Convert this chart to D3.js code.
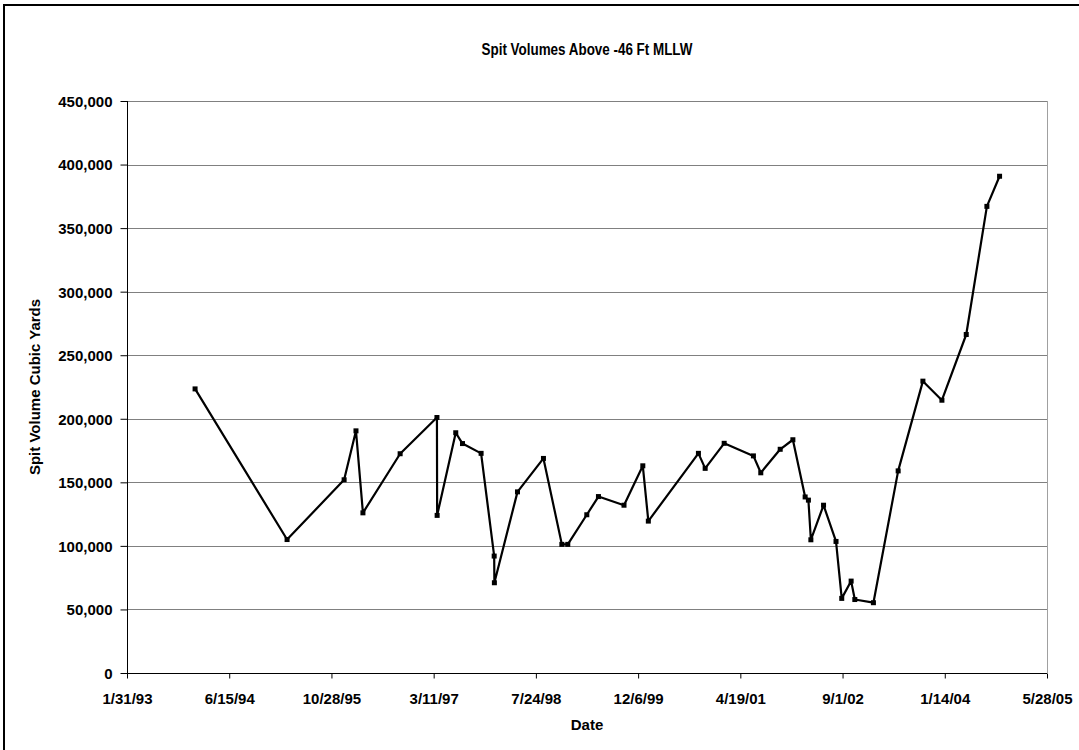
<!DOCTYPE html>
<html><head><meta charset="utf-8">
<script src="https://cdn.jsdelivr.net/npm/d3@7"></script>
<style>body{margin:0;background:#fff}svg{display:block}text{font-family:"Liberation Sans",Arial,sans-serif;font-weight:bold}</style>
</head><body><svg id="c" width="1079" height="750"></svg>
<script>
const dates = ["1993-12-30","1995-03-25","1995-12-29","1996-02-25","1996-03-30","1996-09-28","1997-03-27","1997-03-28","1997-06-27","1997-07-30","1997-10-29","1998-01-01","1998-01-02","1998-04-25","1998-08-30","1998-11-28","1998-12-27","1999-03-30","1999-05-26","1999-09-28","1999-12-29","2000-01-25","2000-09-26","2000-10-29","2001-01-30","2001-06-22","2001-07-28","2001-10-31","2002-01-01","2002-03-02","2002-03-18","2002-03-30","2002-05-31","2002-07-31","2002-08-28","2002-10-13","2002-10-31","2003-01-30","2003-05-31","2003-09-29","2003-12-31","2004-04-28","2004-08-07","2004-10-08"];
const volumes = [223500,105000,152000,190500,126000,172500,201000,124000,189000,180500,172800,92000,71000,142500,168800,101200,101200,124500,138800,132000,163000,119500,172800,161000,180700,170800,157500,176000,183500,138500,136000,104800,132000,103500,58700,72300,57800,55300,159000,229600,214600,266300,367100,390800];
const xTickLabels = ["1/31/93","6/15/94","10/28/95","3/11/97","7/24/98","12/6/99","4/19/01","9/1/02","1/14/04","5/28/05"];
const yTicks = [0,50000,100000,150000,200000,250000,300000,350000,400000,450000];
const title = "Spit Volumes Above -46 Ft MLLW";
const xTitle = "Date";
const yTitle = "Spit Volume Cubic Yards";

const parse = d3.timeParse("%Y-%m-%d");
const tparse = d3.timeParse("%m/%d/%y");
const tickDates = xTickLabels.map(tparse);
const data = dates.map((d,i)=>({d:parse(d), v:volumes[i]}));

const L=127,R=1047,T=101,B=673;
const svg = d3.select("#c");
svg.append("rect").attr("x",4).attr("y",5).attr("width",1090).attr("height",760).attr("fill","#fff").attr("stroke","#000").attr("stroke-width",2);

const x = d3.scaleTime().domain([tickDates[0], tickDates[tickDates.length-1]]).range([L,R]);
const y = d3.scaleLinear().domain([0,450000]).range([B,T]);

// gridlines
svg.append("g").selectAll("line").data(yTicks.slice(1)).join("line")
  .attr("x1",L).attr("x2",R).attr("y1",d=>Math.round(y(d))+0.5).attr("y2",d=>Math.round(y(d))+0.5)
  .attr("stroke","#808080").attr("stroke-width",1.2);
// right border of plot area
svg.append("line").attr("x1",R+0.5).attr("x2",R+0.5).attr("y1",T).attr("y2",B).attr("stroke","#a0a0a0").attr("stroke-width",1);

// axes
const yAxis = d3.axisLeft(y).tickValues(yTicks).tickSize(7).tickPadding(3).tickFormat(d3.format(","));
const gy = svg.append("g").attr("transform",`translate(${L+0.5},0)`).call(yAxis);
gy.select(".domain").attr("stroke","#000").attr("d",`M0,${T}V${B}`);
gy.selectAll("text").attr("font-size",15).attr("dx",-5).attr("dy","0.36em").attr("fill","#000");

const xAxis = d3.axisBottom(x).tickValues(tickDates).tickSize(5).tickPadding(3).tickFormat((d,i)=>xTickLabels[i]);
const gx = svg.append("g").attr("transform",`translate(0,${B+0.5})`).call(xAxis);
gx.select(".domain").attr("stroke","#000").attr("d",`M${L},0H${R}`);
gx.selectAll("text").attr("font-size",15).attr("dy",22).attr("fill","#000");

// line
svg.append("path").datum(data).attr("fill","none").attr("stroke","#000").attr("stroke-width",2.2)
  .attr("stroke-linejoin","round")
  .attr("d",d3.line().x(d=>x(d.d)).y(d=>y(d.v)));
svg.append("g").selectAll("rect").data(data).join("rect")
  .attr("x",d=>x(d.d)-2.5).attr("y",d=>y(d.v)-2.5).attr("width",5).attr("height",5).attr("fill","#000");

// titles
svg.append("text").attr("x",587).attr("y",55).attr("text-anchor","middle").attr("font-size",16)
  .attr("textLength",211).attr("lengthAdjust","spacingAndGlyphs").text(title);
svg.append("text").attr("x",587).attr("y",730).attr("text-anchor","middle").attr("font-size",15).text(xTitle);
svg.append("text").attr("transform","translate(40,387) rotate(-90)").attr("text-anchor","middle").attr("font-size",15).text(yTitle);
</script></body></html>
